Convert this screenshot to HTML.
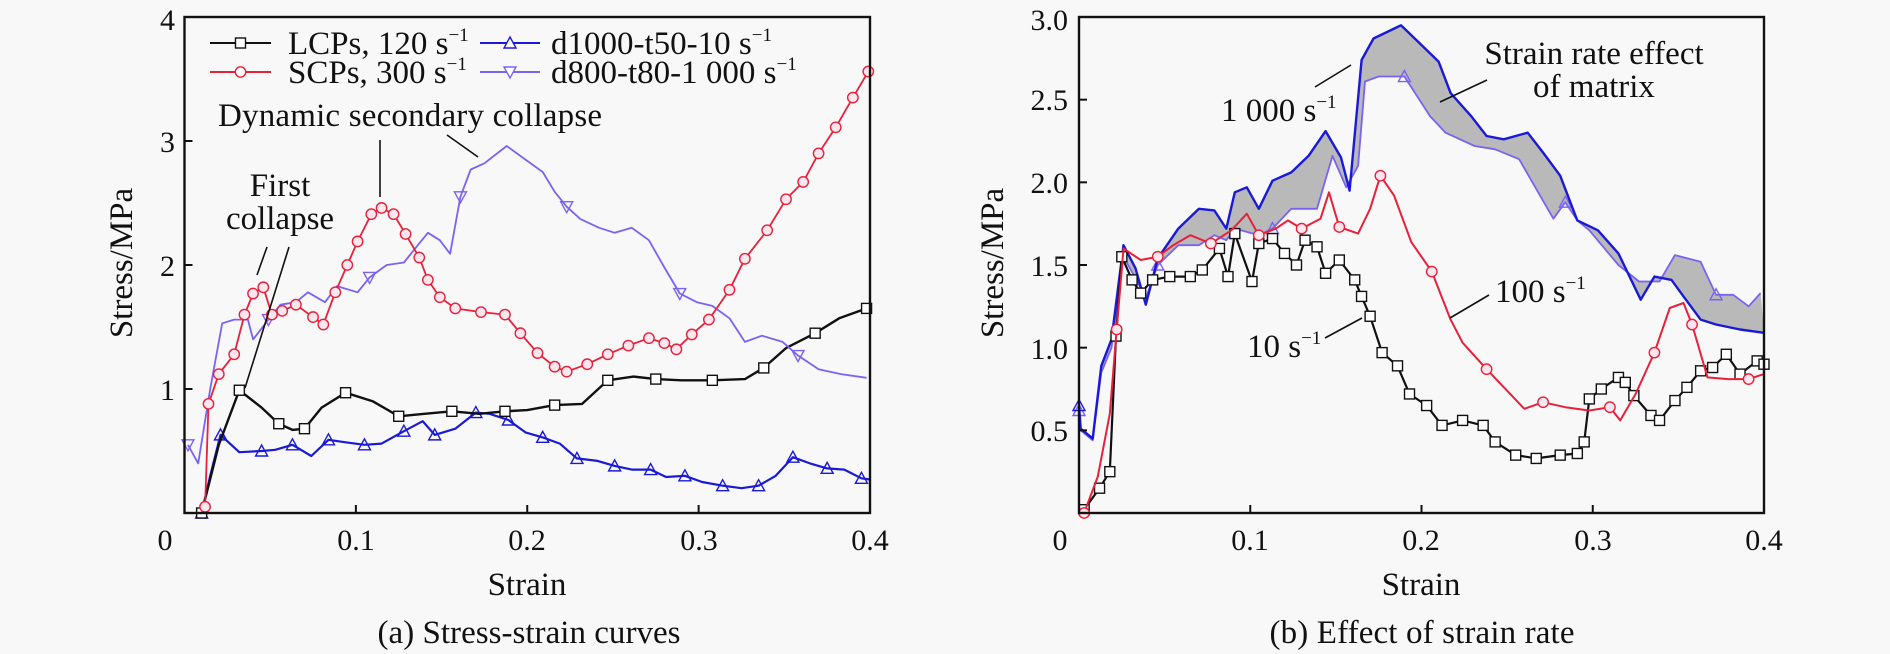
<!DOCTYPE html>
<html><head><meta charset="utf-8"><style>
html,body{margin:0;padding:0;background:#f8f8f8;}
svg{display:block;font-family:"Liberation Serif","Times New Roman",serif;}
</style></head><body>
<svg id="fig" width="1890" height="654" viewBox="0 0 1890 654" xmlns="http://www.w3.org/2000/svg">
<rect x="0" y="0" width="1890" height="654" fill="#f8f8f8"/>
<g id="gA"></g>
<g id="gB"></g>

<!-- Panel A static text -->
<g font-size="30" fill="#111">
<text x="175" y="30" text-anchor="end">4</text>
<text x="175" y="152" text-anchor="end">3</text>
<text x="175" y="276" text-anchor="end">2</text>
<text x="175" y="400" text-anchor="end">1</text>
</g>
<g font-size="30" fill="#111" text-anchor="middle">
<text x="165" y="550">0</text>
<text x="356" y="550">0.1</text>
<text x="527" y="550">0.2</text>
<text x="699" y="550">0.3</text>
<text x="870" y="550">0.4</text>
</g>
<text x="527" y="595" font-size="33" text-anchor="middle" fill="#111">Strain</text>
<text x="529" y="643" font-size="33" text-anchor="middle" fill="#111" textLength="303">(a) Stress-strain curves</text>
<text transform="translate(132,263) rotate(-90)" font-size="33" text-anchor="middle" fill="#111">Stress/MPa</text>

<g font-size="33" fill="#111">
<text x="288" y="54">LCPs, 120 s<tspan font-size="19" dy="-13">−1</tspan></text>
<text x="288" y="83">SCPs, 300 s<tspan font-size="19" dy="-13">−1</tspan></text>
<text x="551" y="54">d1000-t50-10 s<tspan font-size="19" dy="-13">−1</tspan></text>
<text x="551" y="83">d800-t80-1 000 s<tspan font-size="19" dy="-13">−1</tspan></text>
</g>

<g font-size="33" fill="#111">
<text x="218" y="126" textLength="384">Dynamic secondary collapse</text>
<text x="280" y="196" text-anchor="middle">First</text>
<text x="280" y="229" text-anchor="middle">collapse</text>
</g>
<g stroke="#111" stroke-width="1.6">
<line x1="380" y1="140" x2="380" y2="197"/>
<line x1="447" y1="135" x2="478" y2="157"/>
<line x1="267" y1="247" x2="257" y2="275"/>
<line x1="289" y1="247" x2="245" y2="388"/>
</g>

<!-- Panel B static text -->
<g font-size="30" fill="#111" text-anchor="end">
<text x="1068" y="30">3.0</text>
<text x="1068" y="110">2.5</text>
<text x="1068" y="193">2.0</text>
<text x="1068" y="276">1.5</text>
<text x="1068" y="359">1.0</text>
<text x="1068" y="441">0.5</text>
</g>
<g font-size="30" fill="#111" text-anchor="middle">
<text x="1060" y="550">0</text>
<text x="1250" y="550">0.1</text>
<text x="1421" y="550">0.2</text>
<text x="1593" y="550">0.3</text>
<text x="1764" y="550">0.4</text>
</g>
<text x="1421" y="595" font-size="33" text-anchor="middle" fill="#111">Strain</text>
<text x="1422" y="643" font-size="33" text-anchor="middle" fill="#111" textLength="305">(b) Effect of strain rate</text>
<text transform="translate(1003,263) rotate(-90)" font-size="33" text-anchor="middle" fill="#111">Stress/MPa</text>

<g font-size="33" fill="#111">
<text x="1221" y="121">1 000 s<tspan font-size="19" dy="-13">−1</tspan></text>
<text x="1594" y="64" text-anchor="middle">Strain rate effect</text>
<text x="1594" y="97" text-anchor="middle">of matrix</text>
<text x="1495" y="302">100 s<tspan font-size="19" dy="-13">−1</tspan></text>
<text x="1247" y="357">10 s<tspan font-size="19" dy="-13">−1</tspan></text>
</g>
<g stroke="#111" stroke-width="1.6">
<line x1="1315" y1="87" x2="1351" y2="65"/>
<line x1="1440" y1="102" x2="1487" y2="80"/>
<line x1="1450" y1="318" x2="1489" y2="295"/>
<line x1="1325" y1="338" x2="1362" y2="318"/>
</g>
</svg>
<script>
// ---------- Panel A data ----------
const aLcpStrain=[0.01,0.02,0.032,0.045,0.055,0.063,0.07,0.08,0.094,0.11,0.125,0.14,0.156,0.172,0.187,0.2,0.216,0.232,0.247,0.262,0.275,0.29,0.308,0.327,0.338,0.351,0.368,0.382,0.398];
const aLcpStress=[0,0.55,0.99,0.85,0.72,0.67,0.68,0.85,0.97,0.9,0.78,0.8,0.82,0.8,0.82,0.83,0.87,0.88,1.07,1.1,1.08,1.07,1.07,1.08,1.17,1.33,1.45,1.57,1.65];
const aScpStrain=[0.012,0.014,0.020,0.029,0.035,0.040,0.046,0.051,0.057,0.065,0.075,0.081,0.088,0.095,0.101,0.109,0.115,0.122,0.129,0.137,0.142,0.149,0.158,0.173,0.187,0.196,0.206,0.216,0.223,0.235,0.247,0.259,0.271,0.28,0.287,0.296,0.306,0.318,0.327,0.34,0.351,0.361,0.37,0.38,0.39,0.399];
const aScpStress=[0.05,0.88,1.12,1.28,1.60,1.77,1.82,1.60,1.63,1.68,1.58,1.52,1.78,2.0,2.19,2.41,2.46,2.41,2.25,2.06,1.88,1.74,1.65,1.62,1.60,1.45,1.29,1.18,1.14,1.20,1.28,1.35,1.41,1.37,1.32,1.44,1.56,1.80,2.05,2.28,2.53,2.67,2.90,3.11,3.35,3.56];
const aD1000Strain=[0.01,0.015,0.021,0.032,0.045,0.053,0.063,0.074,0.084,0.094,0.105,0.115,0.128,0.139,0.146,0.158,0.17,0.178,0.189,0.199,0.209,0.219,0.229,0.241,0.251,0.261,0.272,0.281,0.292,0.302,0.314,0.325,0.335,0.345,0.355,0.365,0.375,0.385,0.395,0.4];
const aD1000Stress=[0,0.3,0.63,0.49,0.5,0.51,0.55,0.46,0.59,0.57,0.55,0.56,0.66,0.74,0.63,0.68,0.81,0.8,0.75,0.65,0.61,0.56,0.44,0.42,0.38,0.35,0.35,0.29,0.3,0.25,0.22,0.2,0.22,0.3,0.45,0.4,0.36,0.35,0.28,0.27];
const aD800Strain=[0.002,0.008,0.015,0.022,0.029,0.037,0.04,0.049,0.056,0.065,0.072,0.082,0.089,0.101,0.108,0.118,0.128,0.135,0.142,0.149,0.155,0.161,0.167,0.175,0.188,0.199,0.209,0.216,0.223,0.231,0.242,0.251,0.261,0.271,0.28,0.289,0.299,0.308,0.318,0.327,0.337,0.349,0.358,0.37,0.383,0.398];
const aD800Stress=[0.55,0.4,1.0,1.53,1.56,1.56,1.40,1.56,1.68,1.70,1.78,1.70,1.83,1.78,1.90,2.0,2.02,2.14,2.26,2.20,2.09,2.55,2.77,2.82,2.96,2.85,2.75,2.59,2.47,2.37,2.30,2.26,2.30,2.20,1.98,1.77,1.70,1.67,1.57,1.38,1.43,1.38,1.27,1.16,1.12,1.09];
const aXTicks=[0.1,0.2,0.3];
const aYTicks=[1,2,3];
// ---------- Panel B data ----------
const b10Strain=[0.003,0.012,0.018,0.0216,0.025,0.031,0.036,0.043,0.053,0.065,0.072,0.082,0.087,0.091,0.101,0.105,0.113,0.12,0.127,0.132,0.139,0.144,0.152,0.161,0.165,0.17,0.177,0.186,0.193,0.203,0.212,0.224,0.236,0.243,0.255,0.267,0.281,0.291,0.295,0.298,0.305,0.315,0.319,0.324,0.334,0.339,0.348,0.355,0.363,0.37,0.378,0.386,0.396,0.4];
const b10Stress=[0.02,0.15,0.25,1.07,1.55,1.41,1.33,1.41,1.43,1.43,1.47,1.60,1.43,1.69,1.40,1.63,1.66,1.57,1.50,1.65,1.61,1.45,1.53,1.41,1.31,1.19,0.97,0.89,0.72,0.65,0.53,0.56,0.53,0.43,0.35,0.33,0.35,0.36,0.43,0.69,0.75,0.82,0.79,0.71,0.59,0.56,0.68,0.76,0.86,0.88,0.96,0.84,0.92,0.90];
const b100Strain=[0.003,0.011,0.018,0.022,0.026,0.036,0.046,0.055,0.065,0.077,0.089,0.098,0.105,0.115,0.122,0.13,0.141,0.146,0.152,0.163,0.17,0.176,0.184,0.194,0.206,0.217,0.224,0.238,0.25,0.26,0.271,0.284,0.298,0.31,0.316,0.325,0.336,0.345,0.353,0.358,0.367,0.379,0.391,0.4];
const b100Stress=[0.0,0.22,0.6,1.11,1.6,1.53,1.55,1.62,1.68,1.63,1.71,1.81,1.68,1.72,1.77,1.72,1.78,1.94,1.73,1.69,1.84,2.04,1.92,1.64,1.46,1.17,1.03,0.87,0.74,0.63,0.67,0.64,0.62,0.64,0.56,0.72,0.97,1.24,1.27,1.14,0.82,0.81,0.81,0.84];
const b1000Strain=[0.0,0.001,0.008,0.013,0.019,0.026,0.033,0.039,0.046,0.058,0.07,0.079,0.086,0.091,0.098,0.105,0.113,0.124,0.134,0.144,0.153,0.158,0.165,0.172,0.188,0.198,0.21,0.217,0.229,0.238,0.248,0.262,0.271,0.281,0.291,0.303,0.315,0.328,0.336,0.346,0.353,0.363,0.372,0.386,0.4];
const b1000Stress=[0.65,0.51,0.45,0.89,1.05,1.62,1.48,1.26,1.54,1.72,1.84,1.83,1.72,1.94,1.97,1.84,2.01,2.06,2.16,2.31,2.15,1.95,2.74,2.87,2.95,2.85,2.73,2.54,2.40,2.28,2.26,2.30,2.18,2.04,1.77,1.71,1.57,1.29,1.43,1.41,1.31,1.17,1.14,1.11,1.09];
const bMatrixStrain=[0.0,0.001,0.008,0.013,0.019,0.026,0.033,0.039,0.046,0.058,0.07,0.079,0.086,0.091,0.098,0.105,0.113,0.124,0.139,0.148,0.156,0.163,0.167,0.175,0.19,0.205,0.214,0.231,0.243,0.257,0.267,0.277,0.284,0.291,0.298,0.315,0.327,0.339,0.348,0.363,0.372,0.382,0.391,0.398];
const bMatrixStress=[0.62,0.5,0.44,0.85,1.0,1.55,1.42,1.3,1.5,1.62,1.62,1.68,1.65,1.72,1.70,1.68,1.72,1.84,1.84,2.16,1.97,2.10,2.61,2.64,2.64,2.40,2.30,2.22,2.20,2.14,1.96,1.78,1.88,1.77,1.71,1.50,1.40,1.40,1.56,1.52,1.32,1.32,1.25,1.33];
const bXTicks=[0.1,0.2,0.3];
const bYTicks=[0.5,1.0,1.5,2.0,2.5];

const NS='http://www.w3.org/2000/svg';
function mk(tag,attrs,parent){const e=document.createElementNS(NS,tag);for(const k in attrs)e.setAttribute(k,attrs[k]);parent.appendChild(e);return e;}

const A={L:184.5,R:870,T:17,B:513,xmax:0.4,ymax:4};
const Bp={L:1079,R:1764,T:17,B:513,xmax:0.4,ymax:3};
function sx(p,v){return p.L+(p.R-p.L)*v/p.xmax;}
function sy(p,v){return p.B-(p.B-p.T)*v/p.ymax;}
function pts(p,xs,ys){return xs.map((x,i)=>sx(p,x).toFixed(1)+','+sy(p,ys[i]).toFixed(1)).join(' ');}

function marker(kind,x,y,color,parent,fill){
  let e;
  if(kind==='sq'){e=mk('rect',{x:x-5,y:y-5,width:10,height:10,fill:fill||'#fff',stroke:color,'stroke-width':1.4},parent);}
  else if(kind==='ci'){e=mk('circle',{cx:x,cy:y,r:5.2,fill:fill||'#fde6ee',stroke:color,'stroke-width':1.4},parent);}
  else if(kind==='tu'){e=mk('polygon',{points:`${x},${y-6} ${x-6},${y+5} ${x+6},${y+5}`,fill:fill||'none',stroke:color,'stroke-width':1.4},parent);}
  else {e=mk('polygon',{points:`${x},${y+6} ${x-6},${y-5} ${x+6},${y-5}`,fill:fill||'none',stroke:color,'stroke-width':1.4},parent);}
  
  
}

function series(p,g,xs,ys,color,kind,step,name,width){
  const s=mk('g',{},g);
  
  
  const pl=mk('polyline',{points:pts(p,xs,ys),fill:'none',stroke:color,'stroke-width':width||2,'stroke-linejoin':'round'},s);
  
  
  for(let i=0;i<xs.length;i+=step){marker(kind,sx(p,xs[i]),sy(p,ys[i]),color,s);}
}

function axes(p,g,xt,yt,name){
  const ax=mk('g',{},g);
  
  
  const r=mk('rect',{x:p.L,y:p.T,width:p.R-p.L,height:p.B-p.T,fill:'none',stroke:'#111','stroke-width':2.4},ax);
  
  
  xt.forEach(v=>{const l=mk('line',{x1:sx(p,v),x2:sx(p,v),y1:p.B,y2:p.B-8,stroke:'#111','stroke-width':2},ax);
    
    });
  yt.forEach(v=>{const l=mk('line',{x1:p.L,x2:p.L+8,y1:sy(p,v),y2:sy(p,v),stroke:'#111','stroke-width':2},ax);
    
    });
}

const gA=document.getElementById('gA');
series(A,gA,aD1000Strain,aD1000Stress,'#1a1ad6','tu',2,'series-d1000-t50-10',2.2);
series(A,gA,aLcpStrain,aLcpStress,'#111','sq',2,'series-lcps-120',2.4);
series(A,gA,aD800Strain,aD800Stress,'#7a63f2','td',7,'series-d800-t80-1000',1.8);
series(A,gA,aScpStrain,aScpStress,'#e8203a','ci',1,'series-scps-300',1.8);
axes(A,gA,aXTicks,aYTicks,'panel-a-axes');

// legend samples
const leg=mk('g',{},gA);


[[210,271,43,'#111','sq'],[210,271,72,'#e8203a','ci'],[480,540,43,'#1a1ad6','tu'],[480,540,72,'#7a63f2','td']].forEach(d=>{
  const l=mk('line',{x1:d[0],x2:d[1],y1:d[2],y2:d[2],stroke:d[3],'stroke-width':2},leg);
  
  
  marker(d[4],(d[0]+d[1])/2,d[2],d[3],leg,'#fff');
});

const gB=document.getElementById('gB');
// gray band between 1000 s^-1 curves
const bandPts=pts(Bp,b1000Strain,b1000Stress)+' '+pts(Bp,bMatrixStrain.slice().reverse(),bMatrixStress.slice().reverse());
const band=mk('polygon',{points:bandPts,fill:'#b9b9b9',stroke:'none'},gB);


series(Bp,gB,bMatrixStrain,bMatrixStress,'#7a63f2','tu',8,'series-1000-matrix',1.8);
series(Bp,gB,b1000Strain,b1000Stress,'#1a1ad6','tu',100,'series-1000',2.4);
series(Bp,gB,b10Strain,b10Stress,'#111','sq',1,'series-10',2.2);
series(Bp,gB,b100Strain,b100Stress,'#e8203a','ci',3,'series-100',2);
axes(Bp,gB,bXTicks,bYTicks,'panel-b-axes');
</script>
</body></html>
